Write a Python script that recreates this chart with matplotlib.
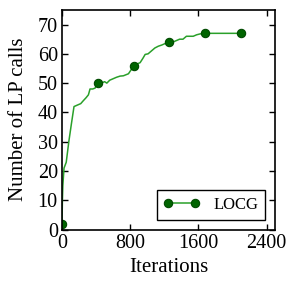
import matplotlib
matplotlib.use('Agg')
import matplotlib.pyplot as plt

# LOCG: number of LP calls vs iterations
iters = [0, 5, 10, 24, 50, 80, 110, 141, 180, 220, 250, 282, 310, 329, 360, 388,
         420, 460, 500, 526, 560, 600, 640, 682, 720, 780, 810, 840, 880, 917,
         950, 976, 1010, 1050, 1090, 1130, 1170, 1210, 1260, 1300, 1340, 1380,
         1420, 1460, 1500, 1540, 1580, 1620, 1680, 2100]
lp_calls = [2, 10, 15, 21, 23, 30, 36, 42, 42.5, 43, 44, 45, 46, 48, 48, 48.3,
            50, 50, 50.5, 50, 51, 51.5, 52, 52.4, 52.5, 53.2, 54.5, 56, 56.5, 57,
            58.5, 59.8, 60, 61, 62, 62.6, 63, 63.5, 64, 64, 64.5, 65,
            65, 66, 66, 66, 66.5, 66.8, 67, 67]
marker_iters = [0, 420, 840, 1260, 1680, 2100]

xticks = [0, 800, 1600, 2400]
yticks = [0, 10, 20, 30, 40, 50, 60, 70]

plt.rcParams['font.family'] = ['Liberation Serif', 'DejaVu Serif']
plt.rcParams['font.size'] = 14

fig = plt.figure(figsize=(2.98, 2.91), dpi=100)
ax = fig.add_axes([0.208, 0.211, 0.715, 0.755])

mark_idx = [iters.index(i) for i in marker_iters]
ax.plot(iters, lp_calls, color='#2aa02a', lw=1.1, marker='o', markevery=mark_idx,
        markersize=6, markerfacecolor='#006400', markeredgecolor='#004a00',
        markeredgewidth=0.8, label='LOCG')

ax.set_xlim(0, 2500)
ax.set_ylim(0, 75)
ax.set_xticks(xticks)
ax.set_yticks(yticks)
ax.tick_params(direction='in', top=True, right=True, length=4, width=1,
               labelsize=14.5, pad=3)
for s in ax.spines.values():
    s.set_linewidth(1.2)

ax.set_xlabel('Iterations', fontsize=15, labelpad=4)
ax.set_ylabel('Number of LP calls', fontsize=15, labelpad=7)

leg = ax.legend(loc='lower right', numpoints=2, fancybox=False, framealpha=1,
                edgecolor='black', fontsize=12, handlelength=2.2,
                borderaxespad=0.6)
leg.get_frame().set_linewidth(1.0)

fig.savefig('out.png', dpi=100)
